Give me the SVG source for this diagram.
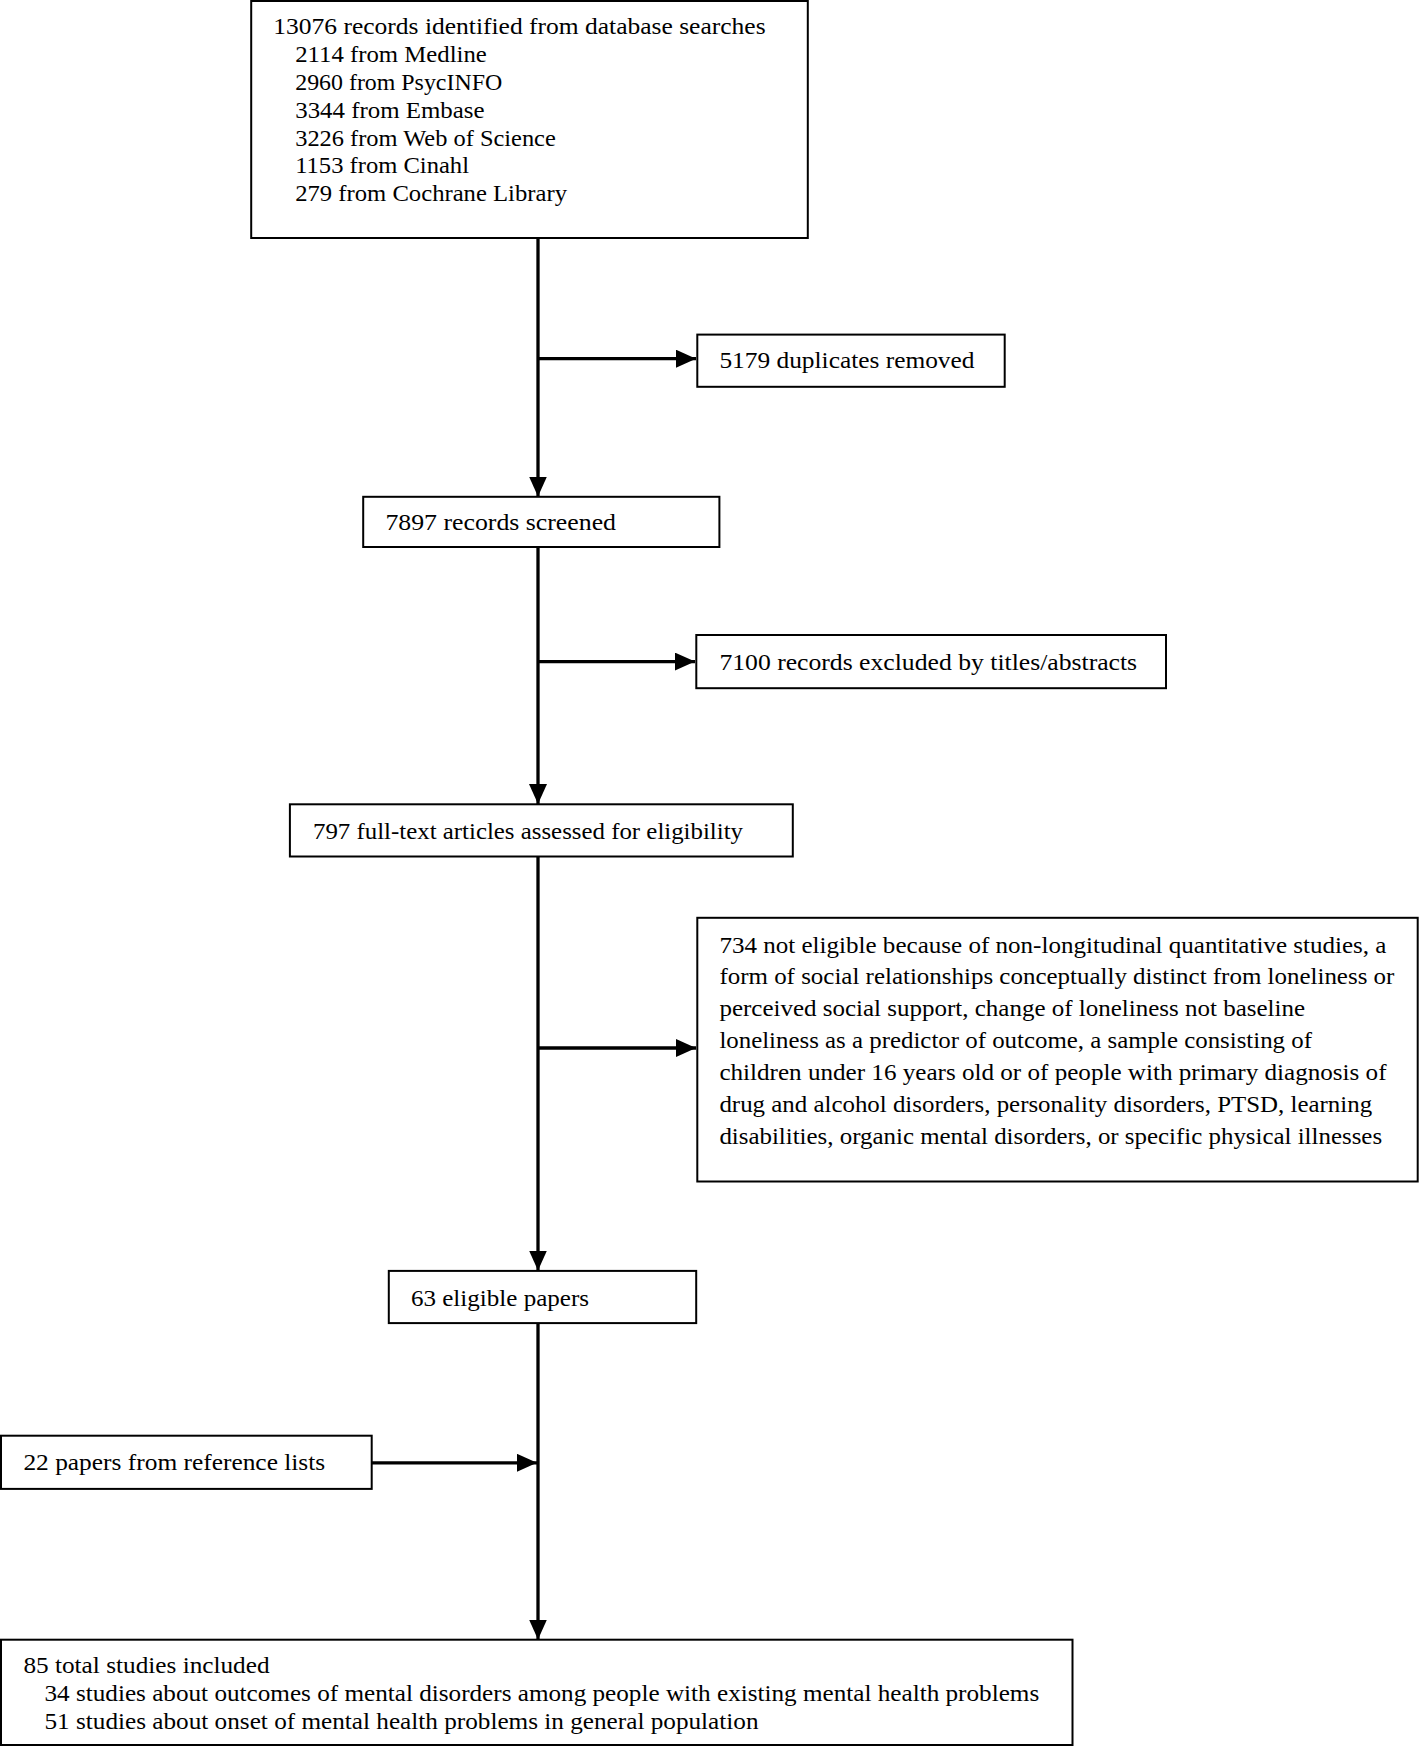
<svg xmlns="http://www.w3.org/2000/svg" width="1419" height="1746" viewBox="0 0 1419 1746">
<style>
.box{fill:#fff;stroke:#000;stroke-width:2}
.t{font-family:"Liberation Serif","Times New Roman",serif;font-size:23px;fill:#000}
.c{stroke:#000;stroke-width:3.3;fill:none}
</style>
<defs>
<marker id="ah" markerUnits="userSpaceOnUse" markerWidth="21" markerHeight="18" refX="20" refY="9" orient="auto">
<path d="M0,0 L20,9 L0,18 Z" fill="#000"/>
</marker>
</defs>
<rect width="1419" height="1746" fill="#fff"/>
<g id="connectors">
<line class="c" x1="538" y1="238" x2="538" y2="496.5" marker-end="url(#ah)"/>
<line class="c" x1="538" y1="358.7" x2="696" y2="358.7" marker-end="url(#ah)"/>
<line class="c" x1="538" y1="547" x2="538" y2="804" marker-end="url(#ah)"/>
<line class="c" x1="538" y1="661.6" x2="695" y2="661.6" marker-end="url(#ah)"/>
<line class="c" x1="538" y1="856.5" x2="538" y2="1270.5" marker-end="url(#ah)"/>
<line class="c" x1="538" y1="1048" x2="696" y2="1048" marker-end="url(#ah)"/>
<line class="c" x1="538" y1="1323" x2="538" y2="1639.5" marker-end="url(#ah)"/>
<line class="c" x1="371.7" y1="1462.8" x2="537" y2="1462.8" marker-end="url(#ah)"/>
</g>
<g id="n1">
<rect class="box" x="251.2" y="1" width="556.6" height="237"/>
<text class="t" x="273.3" y="34.2" textLength="492.3" lengthAdjust="spacingAndGlyphs">13076 records identified from database searches</text>
<text class="t" x="295.2" y="62.3" textLength="191.6" lengthAdjust="spacingAndGlyphs">2114 from Medline</text>
<text class="t" x="295.2" y="89.9" textLength="207" lengthAdjust="spacingAndGlyphs">2960 from PsycINFO</text>
<text class="t" x="295.2" y="117.5" textLength="189.4" lengthAdjust="spacingAndGlyphs">3344 from Embase</text>
<text class="t" x="295.2" y="145.7" textLength="260.6" lengthAdjust="spacingAndGlyphs">3226 from Web of Science</text>
<text class="t" x="295.2" y="173.3" textLength="173.8" lengthAdjust="spacingAndGlyphs">1153 from Cinahl</text>
<text class="t" x="295.2" y="201" textLength="271.8" lengthAdjust="spacingAndGlyphs">279 from Cochrane Library</text>
</g>
<g id="n2">
<rect class="box" x="697.3" y="334.6" width="307.4" height="52.2"/>
<text class="t" x="719.4" y="367.7" textLength="255.1" lengthAdjust="spacingAndGlyphs">5179 duplicates removed</text>
</g>
<g id="n3">
<rect class="box" x="363.2" y="496.8" width="356.2" height="50.2"/>
<text class="t" x="385.4" y="529.5" textLength="230.6" lengthAdjust="spacingAndGlyphs">7897 records screened</text>
</g>
<g id="n4">
<rect class="box" x="696.3" y="635" width="469.7" height="53.2"/>
<text class="t" x="719.4" y="669.6" textLength="417.7" lengthAdjust="spacingAndGlyphs">7100 records excluded by titles/abstracts</text>
</g>
<g id="n5">
<rect class="box" x="289.9" y="804.3" width="502.9" height="52.2"/>
<text class="t" x="313" y="839" textLength="430" lengthAdjust="spacingAndGlyphs">797 full-text articles assessed for eligibility</text>
</g>
<g id="n6">
<rect class="box" x="697.3" y="917.8" width="720.4" height="263.7"/>
<text class="t" x="719.4" y="952.5" textLength="667.1" lengthAdjust="spacingAndGlyphs">734 not eligible because of non-longitudinal quantitative studies, a</text>
<text class="t" x="719.4" y="984.4" textLength="675" lengthAdjust="spacingAndGlyphs">form of social relationships conceptually distinct from loneliness or</text>
<text class="t" x="719.4" y="1016.4" textLength="585.7" lengthAdjust="spacingAndGlyphs">perceived social support, change of loneliness not baseline</text>
<text class="t" x="719.4" y="1048.3" textLength="592.6" lengthAdjust="spacingAndGlyphs">loneliness as a predictor of outcome, a sample consisting of</text>
<text class="t" x="719.4" y="1080.3" textLength="667.1" lengthAdjust="spacingAndGlyphs">children under 16 years old or of people with primary diagnosis of</text>
<text class="t" x="719.4" y="1112.2" textLength="652.7" lengthAdjust="spacingAndGlyphs">drug and alcohol disorders, personality disorders, PTSD, learning</text>
<text class="t" x="719.4" y="1144.2" textLength="662.7" lengthAdjust="spacingAndGlyphs">disabilities, organic mental disorders, or specific physical illnesses</text>
</g>
<g id="n7">
<rect class="box" x="388.8" y="1270.9" width="307.4" height="52.2"/>
<text class="t" x="410.9" y="1305.6" textLength="178.2" lengthAdjust="spacingAndGlyphs">63 eligible papers</text>
</g>
<g id="n8">
<rect class="box" x="1" y="1435.7" width="370.7" height="53.2"/>
<text class="t" x="23.4" y="1470.4" textLength="301.8" lengthAdjust="spacingAndGlyphs">22 papers from reference lists</text>
</g>
<g id="n9">
<rect class="box" x="1" y="1639.7" width="1071.5" height="105.3"/>
<text class="t" x="23.4" y="1672.8" textLength="246.2" lengthAdjust="spacingAndGlyphs">85 total studies included</text>
<text class="t" x="44.5" y="1701" textLength="994.7" lengthAdjust="spacingAndGlyphs">34 studies about outcomes of mental disorders among people with existing mental health problems</text>
<text class="t" x="44.5" y="1728.6" textLength="714" lengthAdjust="spacingAndGlyphs">51 studies about onset of mental health problems in general population</text>
</g>
</svg>
